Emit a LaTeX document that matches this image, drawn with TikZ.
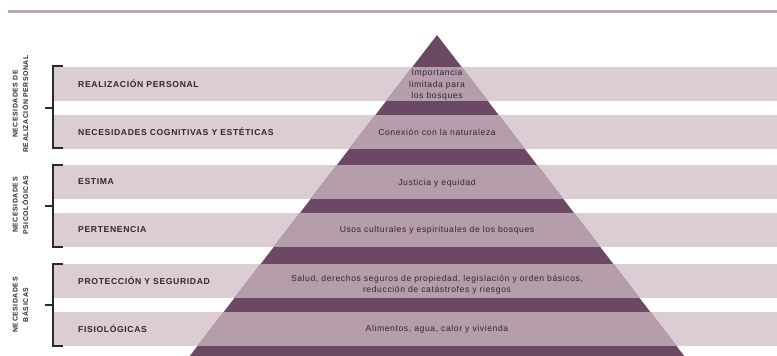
\documentclass[tikz,border=0pt]{standalone}
\usepackage{fontspec}
\setmainfont{Liberation Sans}
\definecolor{pale}{HTML}{DCCDD4}
\definecolor{lightp}{HTML}{B59DAB}
\definecolor{darkp}{HTML}{6B4863}
\definecolor{topl}{HTML}{BCA6B3}
\definecolor{txt}{HTML}{2A2A2A}
\tikzset{
  blab/.style={anchor=west, inner sep=0pt, text=txt, font=\fontsize{8.6}{10}\selectfont\bfseries\addfontfeatures{LetterSpace=7.5}},
  ptxt/.style={inner sep=0pt, align=center, text=txt, font=\fontsize{8.6}{11.3}\selectfont\addfontfeatures{LetterSpace=7}},
  glab/.style={rotate=90, inner sep=0pt, align=center, text=txt, font=\fontsize{6.9}{10.5}\selectfont\bfseries\addfontfeatures{LetterSpace=8}},
  brk/.style={draw=txt, line width=1.1pt}
}
\begin{document}
\begin{tikzpicture}[x=1pt,y=-1pt]
\useasboundingbox (0,0) rectangle (777,356);
% top rule
\draw[topl, line width=3pt] (8,11) -- (777,11);
% pale bands
\foreach \a/\b in {67/101,115/149,165/199,213/247,264/298,312/346}
  \fill[pale] (53,\a) rectangle (777,\b);
% pyramid
\begin{scope}
  \clip (437,35) -- (189.8,356) -- (684.2,356) -- cycle;
  \fill[darkp] (0,0) rectangle (777,356);
  \foreach \a/\b in {67/101,115/149,165/199,213/247,264/298,312/346}
    \fill[lightp] (0,\a) rectangle (777,\b);
\end{scope}
% band labels
\node[blab] (l1) at (78,84) {REALIZACIÓN PERSONAL};
\node[blab] (l2) at (78,132) {NECESIDADES COGNITIVAS Y ESTÉTICAS};
\node[blab] (l3) at (78,182) {ESTIMA};
\node[blab] (l4) at (78,230) {PERTENENCIA};
\node[blab] (l5) at (78,281) {PROTECCIÓN Y SEGURIDAD};
\node[blab] (l6) at (78,329) {FISIOLÓGICAS};
% pyramid texts
\node[ptxt] (p1) at (437,85) {Importancia\\limitada para\\los bosques};
\node[ptxt] (p2) at (437,132) {Conexión con la naturaleza};
\node[ptxt] (p3) at (437,183) {Justicia y equidad};
\node[ptxt] (p4) at (437,230) {Usos culturales y espirituales de los bosques};
\node[ptxt] (p5) at (437,285) {Salud, derechos seguros de propiedad, legislación y orden básicos,\\reducción de catástrofes y riesgos};
\node[ptxt] (p6) at (437,329) {Alimentos, agua, calor y vivienda};
% group labels
\node[glab] (g1) at (20.5,104) {NECESIDADES DE\\REALIZACIÓN PERSONAL};
\node[glab] (g2) at (20.5,205) {NECESIDADES\\PSICOLÓGICAS};
\node[glab] (g3) at (20.5,305) {NECESIDADES\\BÁSICAS};
% brackets
\foreach \t/\bt/\m in {66/148/108,165/247/206,264/346/305}{
  \draw[brk] (63,\t) -- (53,\t) -- (53,\bt) -- (63,\bt);
  \draw[brk] (53,\m) -- (45,\m);
}
\end{tikzpicture}
\end{document}
